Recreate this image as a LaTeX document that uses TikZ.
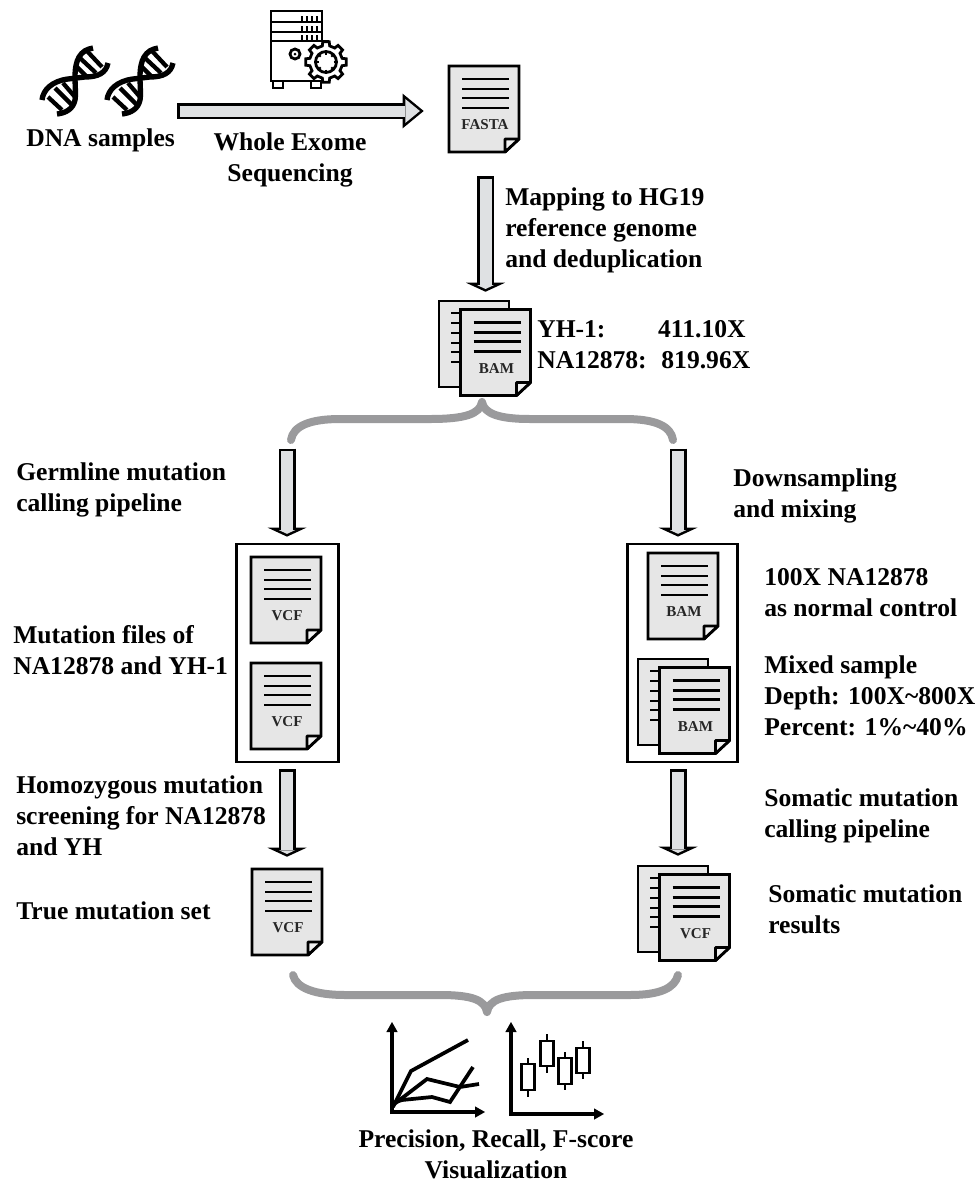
\documentclass[tikz,border=0pt]{standalone}
\usepackage{fontspec}
\setmainfont{Liberation Serif}
\usetikzlibrary{arrows.meta,calc}
\definecolor{arrowgrey}{HTML}{DFE1E3}
\definecolor{pagegrey}{HTML}{E6E6E6}
\definecolor{foldgrey}{HTML}{F2F2F2}
\definecolor{bracegrey}{HTML}{9A9A9C}
\tikzset{
  lbl/.style={font=\fontsize{19.2}{23}\selectfont\bfseries,inner sep=0pt,align=left,anchor=base west},
  lblc/.style={lbl,align=center,anchor=base},
  doctext/.style={font=\fontsize{11.3}{13}\selectfont\bfseries,inner sep=0pt,text=black!85},
  docbody/.style={minimum width=52.5pt,minimum height=64.5pt,inner sep=0pt},
  pageline/.style={line width=2.1pt,line join=miter,fill=pagegrey},
  ruleline/.style={line width=1.9pt},
  frame/.style={draw,line width=2.1pt,minimum width=76pt,minimum height=163.5pt,inner sep=0pt},
  brace/.style={draw=bracegrey,line width=6pt,line cap=round,line join=round},
  axisline/.style={line width=3pt,-{Triangle[length=7.5pt,width=8.5pt,line width=0pt]}},
  series/.style={line width=2.8pt,line join=miter},
  candle/.style={line width=1.6pt},
  iconline/.style={line width=2.1pt},
  downarrow/.style={draw=arrowgrey,line width=9pt,
    -{Triangle[length=2.8pt,width=12.15pt,line width=0pt]},shorten <=1.9pt,shorten >=2.07pt,
    preaction={draw=black,line width=12.75pt,shorten <=0pt,shorten >=0pt,
      -{Triangle[length=6.75pt,width=29.25pt,line width=0pt]}}},
  rightarrow/.style={draw=arrowgrey,line width=8.25pt,
    -{Triangle[length=10.95pt,width=18pt,line width=0pt]},shorten <=1.9pt,shorten >=2.9pt,
    preaction={draw=black,line width=12pt,shorten <=0pt,shorten >=0pt,
      -{Triangle[length=15.75pt,width=25.9pt,line width=0pt]}}},
}
% page with folded corner
\newcommand{\docpage}[4]{%
  \begin{scope}[shift={(#2,#3)}]
    \draw[pageline] (0,0)--(70,0)--(70,73)--(56,86)--(0,86)--cycle;
    \draw[pageline,line join=bevel,fill=foldgrey] (70,73)--(56,73)--(56,86)--cycle;
    \foreach \ly in {13,23,32,42} \draw[ruleline] (13,\ly)--(60,\ly);
    \node[docbody] (#1) at (35,43) {};
    \node[doctext] (#1-label) at (36,59) {#4};
  \end{scope}}
% two pages, the back one with binding ticks
\newcommand{\docstack}[4]{%
  \begin{scope}[shift={(#2,#3)}]
    \draw[pageline] (0,0) rectangle (70,86);
    \foreach \ly in {12,22,32,42,51,61} \draw[ruleline] (12,\ly)--(21,\ly);
  \end{scope}
  \docpage{#1}{#2+21.5}{#3+8.5}{#4}}
\begin{document}
\begin{tikzpicture}[x=0.75pt,y=-0.75pt]
  \useasboundingbox (0,0) rectangle (978,1182);

  % DNA
  \foreach \dx in {30,95} {
    \begin{scope}[shift={(\dx,35)}]
      \draw[line width=4pt] (63,13) .. controls (50,15) and (45,25) .. (45,42)
        .. controls (45,50) and (46,60) .. (45,65) .. controls (43,74) and (36,78) .. (27,79);
      \draw[line width=4pt] (78,28) .. controls (76,38) and (68,42) .. (55,42) -- (38,44)
        .. controls (22,46) and (13,55) .. (12,65);
      \foreach \ax/\ay/\bx/\by in {57/16/72/32,50/23/66/38,46/31/57/42,33/48/45/62,25/53/42/70,18/62/32/75}
        \draw[line width=3.2pt] (\ax,\ay)--(\bx,\by);
    \end{scope}
  }
  \node[lbl] (dnalabel) at (26,146) {DNA samples};

  % Server
  \draw[iconline] (271,11) rectangle (322,41);
  \draw[iconline] (271,22)--(322,22) (271,32)--(322,32);
  \foreach \ry in {22,32,41} \foreach \tx in {302,307,312,317}
    \draw[line width=1.5pt] (\tx,\ry-6)--(\tx,\ry);
  \draw[iconline] (271,41) rectangle (328,81);
  \draw[iconline] (273,81) rectangle (283,88) (311,81) rectangle (321,88);
  \draw[iconline] (295,54) circle (5);
  \fill (295,54) circle (1.5);
  \begin{scope}[shift={(326,62)}]
    \draw[iconline,fill=white] (-13:16.5)
      \foreach \ga in {0,45,...,315} { -- (\ga-13:16.5) -- (\ga-9:20.5) -- (\ga+9:20.5) -- (\ga+13:16.5) } -- cycle;
    \draw[iconline] (0,0) circle (10.5);
    \foreach \ga in {0,45,...,315} \draw[line width=1.4pt] (\ga:7.5)--(\ga:10.5);
  \end{scope}

  % Top row
  \docpage{fasta}{449}{66}{FASTA}
  \node[lblc] (wes) at (290,181) {Whole Exome\\Sequencing};
  \coordinate (dnaout) at (177,111);
  \draw[rightarrow] (dnaout) -- ($(fasta.west)+(-25,2)$);

  \docstack{bamtop}{439}{301}{BAM}
  \draw[downarrow] ($(fasta.south)+(1.5,24)$) -- ($(bamtop.north)+(-10,-17.5)$);
  \node[lbl] (maplabel) at (505,267) {Mapping to HG19\\reference genome\\and deduplication};
  \node[lbl] (depth) at (537,368) {YH-1:\hspace{39.5pt}411.10X\\NA12878:\hspace{11pt}819.96X};

  % Upper brace
  \coordinate (upL) at (291,440);
  \coordinate (upR) at (673,440);
  \coordinate (upTip) at (482,402);
  \draw[brace] (upL) .. controls (293,426) and (310,419) .. (340,419) -- (430,419)
    .. controls (465,419) and (480,414) .. (upTip)
    .. controls (484,414) and (500,419) .. (530,419) -- (625,419)
    .. controls (655,419) and (671,426) .. (upR);

  % Left column
  \node[frame] (leftbox) at (287.5,653) {};
  \node[frame,minimum width=83pt] (rightbox) at (682.5,653) {};
  \draw[downarrow] ($(leftbox.north)+(-0.5,-94)$) -- ($(leftbox.north)+(-0.5,-6)$);
  \node[lbl] (germ) at (16,511) {Germline mutation\\calling pipeline};
  \docpage{vcfa}{251}{557}{VCF}
  \docpage{vcfb}{251}{663}{VCF}
  \node[lbl] (mutfiles) at (13,674) {Mutation files of\\NA12878 and YH-1};
  \docpage{vcftrue}{252}{869}{VCF}
  \draw[downarrow] ($(leftbox.south)+(-0.5,6)$) -- ($(vcftrue.north)+(0,-12)$);
  \node[lbl] (homoz) at (16,855) {Homozygous mutation\\screening for NA12878\\and YH};
  \node[lbl] (trueset) at (16,919) {True mutation set};

  % Right column
  \draw[downarrow] ($(rightbox.north)+(-4.5,-94)$) -- ($(rightbox.north)+(-4.5,-6)$);
  \node[lbl] (down) at (733,517) {Downsampling\\and mixing};
  \docpage{bamctl}{648}{553}{BAM}
  \docstack{bammix}{638}{659}{BAM}
  \node[lbl] (ctl) at (764,616) {100X NA12878\\as normal control};
  \node[lbl] (mixed) at (764,735) {Mixed sample\\Depth: 100X\textasciitilde800X\\Percent: 1\%\textasciitilde40\%};
  \docstack{vcfsom}{638}{866}{VCF}
  \draw[downarrow] ($(rightbox.south)+(-4.5,6)$) -- ($(vcfsom.north)+(-16.5,-18.5)$);
  \node[lbl] (pipe) at (764,837) {Somatic mutation\\calling pipeline};
  \node[lbl] (res) at (768,933) {Somatic mutation\\results};

  % Lower brace
  \coordinate (loL) at (293,975);
  \coordinate (loR) at (678,975);
  \coordinate (loTip) at (487,1012);
  \draw[brace] (loL) .. controls (296,988) and (315,995) .. (345,995) -- (440,995)
    .. controls (472,995) and (485,1000) .. (loTip)
    .. controls (489,1000) and (502,995) .. (534,995) -- (630,995)
    .. controls (660,995) and (675,988) .. (loR);

  % Line chart
  \coordinate (lineO) at (392,1112);
  \draw[axisline] ($(lineO)+(0,2)$) -- (392,1022);
  \draw[axisline] ($(lineO)+(-2,0)$) -- (485,1112);
  \draw[series] ($(lineO)+(1,-5)$) -- (411,1071) -- (468,1040);
  \draw[series] ($(lineO)+(1,-7)$) -- (427,1079) -- (460,1087) -- (479,1084);
  \draw[series] ($(lineO)+(1,-9)$) -- (402,1100) -- (432,1097) -- (450,1102) -- (473,1067);

  % Candle chart
  \coordinate (candleO) at (511,1114);
  \draw[axisline] ($(candleO)+(0,2)$) -- (511,1022);
  \draw[axisline] ($(candleO)+(-2,0)$) -- (604,1114);
  \foreach \cx/\wa/\ba/\bb/\wb in {528/1058/1064/1090/1097,547/1034/1041/1066/1073,565/1052/1058/1084/1090,583/1041/1048/1073/1079} {
    \draw[candle] (\cx,\wa)--(\cx,\ba) (\cx,\bb)--(\cx,\wb);
    \draw[candle] (\cx-6.5,\ba) rectangle (\cx+6.5,\bb);
  }
  \node[lblc] (viz) at (496,1178) {Precision, Recall, F-score\\Visualization};
\end{tikzpicture}
\end{document}
